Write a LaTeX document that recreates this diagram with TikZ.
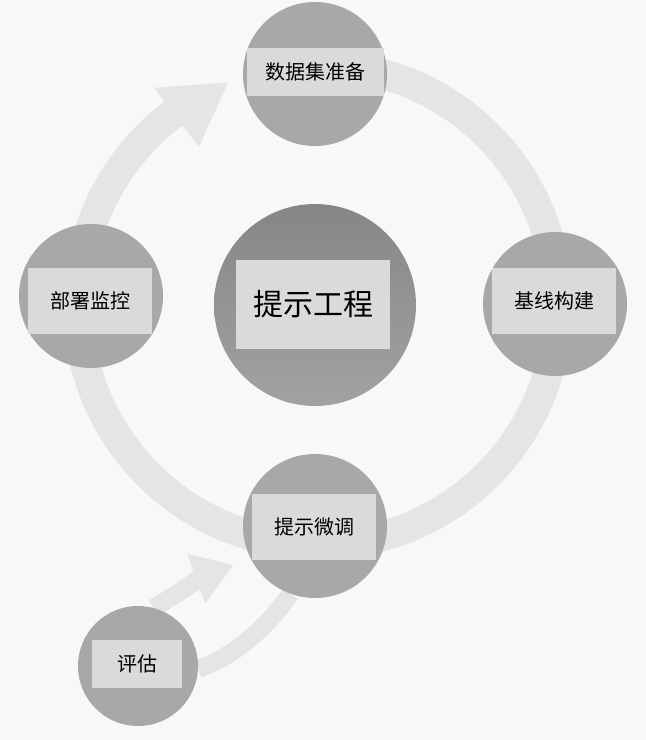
\documentclass[tikz,border=0pt]{standalone}
\usepackage{fontspec}
\newfontfamily\cjk{Noto Sans CJK SC}
\usetikzlibrary{arrows.meta,backgrounds}
\definecolor{bgc}{RGB}{248,248,248}
\definecolor{ringc}{RGB}{229,229,229}
\definecolor{ballc}{RGB}{168,168,168}
\definecolor{boxc}{RGB}{218,218,218}
\definecolor{coretop}{RGB}{134,134,134}
\definecolor{corebot}{RGB}{162,162,162}
\begin{document}
\begin{tikzpicture}[x=1pt,y=1pt,
ball/.style={circle,fill=ballc,minimum size=144pt,inner sep=0pt},
lbl/.style={fill=boxc,font=\cjk\fontsize{20}{24}\selectfont,minimum width=124pt,minimum height=66pt,inner sep=0pt},
band/.style={draw=ringc,line width=#1},band/.default=30pt]
\node[ball](data)at(315,-74){};
\node[ball](deploy)at(91,-296){};
\node[ball](base)at(555,-304){};
\node[ball](tune)at(315,-526){};
\node[ball,minimum size=120pt](eval)at(138,-666){};
\node[circle,minimum size=202pt,inner sep=0pt,top color=coretop,bottom color=corebot](core)at(315,-305){};
\node[lbl,minimum width=137pt,minimum height=48pt](dataL)at(315,-72){数据集准备};
\node[lbl](deployL)at(90,-301){部署监控};
\node[lbl](baseL)at(554,-301){基线构建};
\node[lbl](tuneL)at(314,-527){提示微调};
\node[lbl,minimum width=90pt,minimum height=48pt](evalL)at(137,-664){评估};
\node[lbl,minimum width=154pt,minimum height=89pt,font=\cjk\fontsize{30}{36}\selectfont](coreL)at(313,-304){提示工程};
\begin{scope}[on background layer]
\fill[bgc](0,0)rectangle(646,-740);
\coordinate(rc)at(318,-305);
\draw[band](rc)++(-233:240)arc[start angle=-233,end angle=90,radius=240];
\fill[ringc]([shift={(127:272)}]rc)--([shift={(112:240)}]rc)--([shift={(127:198)}]rc)--cycle;
\draw[band=18pt,-{Triangle[length=40pt,width=50pt]},shorten >=18pt](eval.75).. controls +(30:30) and +(200:50) ..(tune.207);
\draw[band=18pt](eval.-3).. controls +(20:40) and +(235:40) ..(tune.250);
\end{scope}
\end{tikzpicture}
\end{document}
